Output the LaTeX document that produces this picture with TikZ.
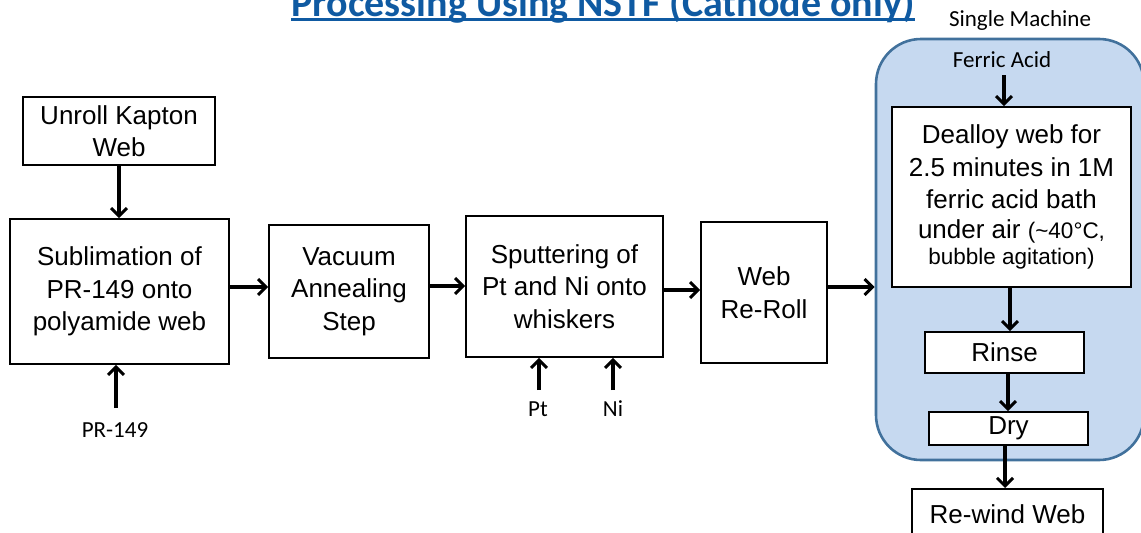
\documentclass[tikz,border=0pt]{standalone}
\usepackage{fontspec}
\setmainfont{Liberation Sans}
\newfontfamily\calibri{Carlito}
\usepackage{xcolor}
\usetikzlibrary{positioning, arrows.meta, calc}
\definecolor{titleblue}{RGB}{15,90,162}
\definecolor{machinefill}{RGB}{198,217,240}
\definecolor{machineframe}{RGB}{65,113,156}

\begin{document}
\begin{tikzpicture}[
        x=1pt, y=-1pt,
        stepbox/.style={draw, line width=1.6pt, fill=white, align=center, inner sep=0pt, font=\fontsize{26}{32.5}\selectfont},
        inlabel/.style={inner sep=0pt, font=\calibri\fontsize{23}{26}\selectfont},
        flow/.style={line width=3.6pt, -{Straight Barb[length=8pt, width=16pt, line width=3pt]}}
    ]
    \useasboundingbox (0,0) rectangle (1141,533);

    % title and machine frame
    \node[inner sep=0pt, anchor=base, text=titleblue, font=\calibri\bfseries\fontsize{40}{44}\selectfont] (title) at (603,16) {Processing Using NSTF (Cathode only)};
    \draw[titleblue, line width=2.6pt] ([yshift=-3.5pt]title.base west) -- ([yshift=-3.5pt]title.base east);
    \node[inlabel] (single) at (1020,20) {Single Machine};
    \node[draw=machineframe, line width=2.6pt, fill=machinefill, rounded corners=45pt, minimum width=268pt, minimum height=421pt, inner sep=0pt] (machine) at (1010,249.5) {};

    % process steps
    \node[stepbox, minimum width=192pt, minimum height=68pt] (unroll) at (119,131) {Unroll Kapton\\Web};
    \node[stepbox, minimum width=219pt, minimum height=145pt] (subl) at (119.5,291.5) {Sublimation of\\PR-149 onto\\polyamide web};
    \node[stepbox, minimum width=160pt, minimum height=133pt] (vac) at (349,291.5) {Vacuum\\Annealing\\Step};
    \node[stepbox, minimum width=197pt, minimum height=141pt] (sput) at (564.5,286.5) {Sputtering of\\Pt and Ni onto\\whiskers};
    \node[stepbox, minimum width=126pt, minimum height=141pt] (reroll) at (764,292.5) {Web\\Re-Roll};
    \node[stepbox, minimum width=239pt, minimum height=180pt] (deal) at (1011.5,197) {Dealloy web for\\2.5 minutes in 1M\\ferric acid bath\\[-3pt]under air {\fontsize{22.5}{26}\selectfont(\textasciitilde40°C,}\\[-6pt]{\fontsize{22.5}{26}\selectfont bubble agitation)}};
    \node[stepbox, minimum width=159pt, minimum height=41pt] (rinse) at (1004.5,352.5) {Rinse};
    \node[stepbox, minimum width=159pt, minimum height=33pt] (dry) at (1008.5,428.5) {Dry};
    \node[stepbox, minimum width=191pt, minimum height=50pt, anchor=north] (rewind) at (1007.5,488) {Re-wind Web};

    % feed labels
    \node[inlabel] (pr) at (115,430) {PR-149};
    \node[inlabel] (pt) at (538,409) {Pt};
    \node[inlabel] (ni) at (613,409) {Ni};
    \node[inlabel] (ferric) at (1002,60) {Ferric Acid};
    \coordinate (prin) at (116,408);
    \coordinate (ptin) at (539,390);
    \coordinate (niin) at (613,390);
    \coordinate (ferricin) at (1004,75);

    % connectors
    \draw[flow] (unroll.south) -- (unroll.south |- subl.north);
    \draw[flow] (prin) -- (prin |- subl.south);
    \draw[flow] (subl.east |- 0,287) -- (vac.west |- 0,287);
    \draw[flow] (vac.east |- 0,286) -- (sput.west |- 0,286);
    \draw[flow] (sput.east |- 0,290) -- (reroll.west |- 0,290);
    \draw[flow] (reroll.east |- 0,287) -- (machine.west |- 0,287);
    \draw[flow] (ptin) -- (ptin |- sput.south);
    \draw[flow] (niin) -- (niin |- sput.south);
    \draw[flow] (ferricin) -- (ferricin |- deal.north);
    \draw[flow] (deal.south -| 1010,0) -- (rinse.north -| 1010,0);
    \draw[flow] (rinse.south -| 1008,0) -- (dry.north -| 1008,0);
    \draw[flow] (dry.south -| 1005,0) -- (rewind.north -| 1005,0);
\end{tikzpicture}
\end{document}
